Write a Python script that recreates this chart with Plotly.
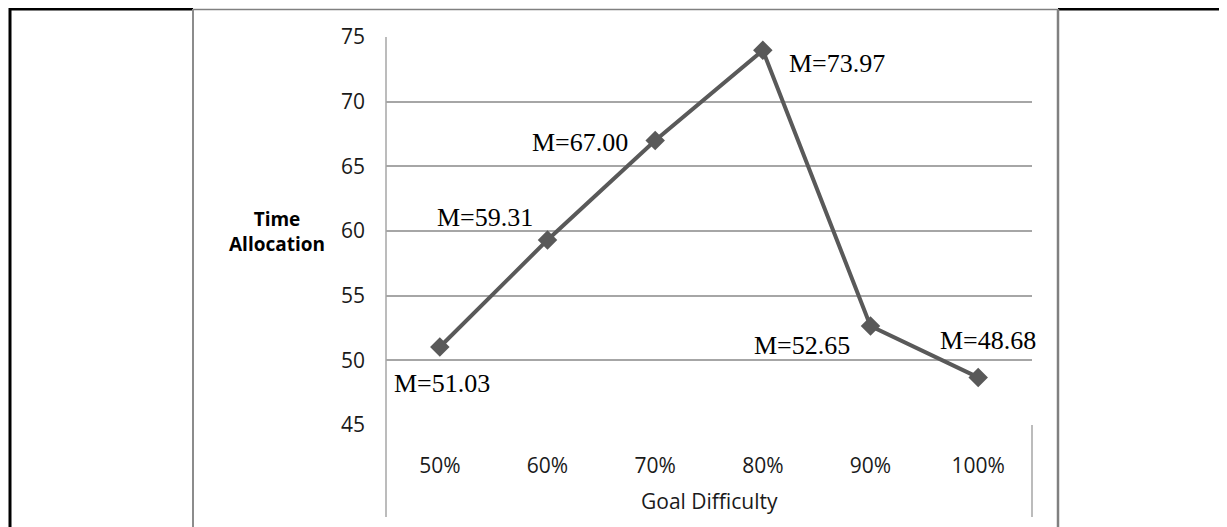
import plotly.graph_objects as go

categories = ["50%", "60%", "70%", "80%", "90%", "100%"]
values = [51.03, 59.31, 67.00, 73.97, 52.65, 48.68]
y_ticks = [45, 50, 55, 60, 65, 70, 75]

# label offsets in pixels (style only)
label_dx = [2, -63, -75, 74, -69, 10]
label_dy = [-36, 22, -2, -13, -19, 37]

# page has an 8px body margin; figure fills the rest of the window
OFF = 8
W, H = 1227 - OFF, 527 - OFF
# plot area in page pixels: x 386..1032, y 37..425
L = 386 - OFF
T = 37 - OFF
R = W - (1032 - OFF)
B = H - (425 - OFF)
PW, PH = W - L - R, H - T - B

def px(x):  # page pixel -> paper
    return (x - OFF - L) / PW

def py(y):
    return (H - B - (y - OFF)) / PH

xs = list(range(len(categories)))

fig = go.Figure()
fig.add_trace(go.Scatter(
    x=xs, y=values, mode="lines+markers",
    line=dict(color="#595959", width=4),
    marker=dict(symbol="diamond", size=15, color="#595959"),
    hoverinfo="skip", showlegend=False,
))

annotations = []
for i, v in enumerate(values):
    annotations.append(dict(
        x=xs[i], y=v, xref="x", yref="y", text=f"M={v:.2f}", showarrow=False,
        xanchor="center", yanchor="middle",
        xshift=label_dx[i], yshift=label_dy[i],
        font=dict(family="Liberation Serif", size=26, color="#000000"),
    ))

annotations.append(dict(
    x=px(277), y=py(231), xref="paper", yref="paper",
    xanchor="center", yanchor="middle",
    text="<b>Time</b><br><b>Allocation</b>", showarrow=False,
    font=dict(family="Open Sans", size=19, color="#000000"), align="center",
))
annotations.append(dict(
    x=px(709), y=py(501), xref="paper", yref="paper",
    xanchor="center", yanchor="middle",
    text="Goal Difficulty", showarrow=False,
    font=dict(family="Open Sans", size=21, color="#1a1a1a"),
))

shapes = []
def line(x0, y0, x1, y1, color, width):
    shapes.append(dict(type="line", xref="paper", yref="paper",
                       x0=px(x0), y0=py(y0), x1=px(x1), y1=py(y1),
                       line=dict(color=color, width=width), layer="above"))

# outer frame (page pixels)
line(193, 9.5, 1058, 9.5, "#808080", 1.5)
line(9, 9, 193, 9, "#000000", 3)
line(1058, 9, 1230, 9, "#000000", 3)
line(10, 8, 10, 530, "#000000", 3)
line(193, 9, 193, 530, "#8c8c8c", 2)
line(1058, 9, 1058, 530, "#808080", 2.5)
# chart box lines
line(386, 37, 386, 517, "#a6a6a6", 1.5)
line(1032, 425, 1032, 517, "#a6a6a6", 1.5)

fig.update_layout(
    width=W, height=H,
    margin=dict(l=L, r=R, t=T, b=B, pad=0),
    paper_bgcolor="white", plot_bgcolor="white",
    annotations=annotations, shapes=shapes,
    xaxis=dict(
        range=[-0.5, len(categories) - 0.5], tickmode="array",
        tickvals=xs, ticktext=categories, showgrid=False, zeroline=False,
        showline=False, ticks="", ticklabelstandoff=26,
        tickfont=dict(family="Open Sans", size=21, color="#1a1a1a"),
    ),
    yaxis=dict(
        range=[45, 75], tickmode="array", tickvals=y_ticks,
        showgrid=True, gridcolor="#a6a6a6", gridwidth=1.5,
        zeroline=False, showline=False, ticks="", ticklabelstandoff=20,
        tickfont=dict(family="Open Sans", size=21, color="#1a1a1a"),
    ),
)

fig.write_html("out.html")
